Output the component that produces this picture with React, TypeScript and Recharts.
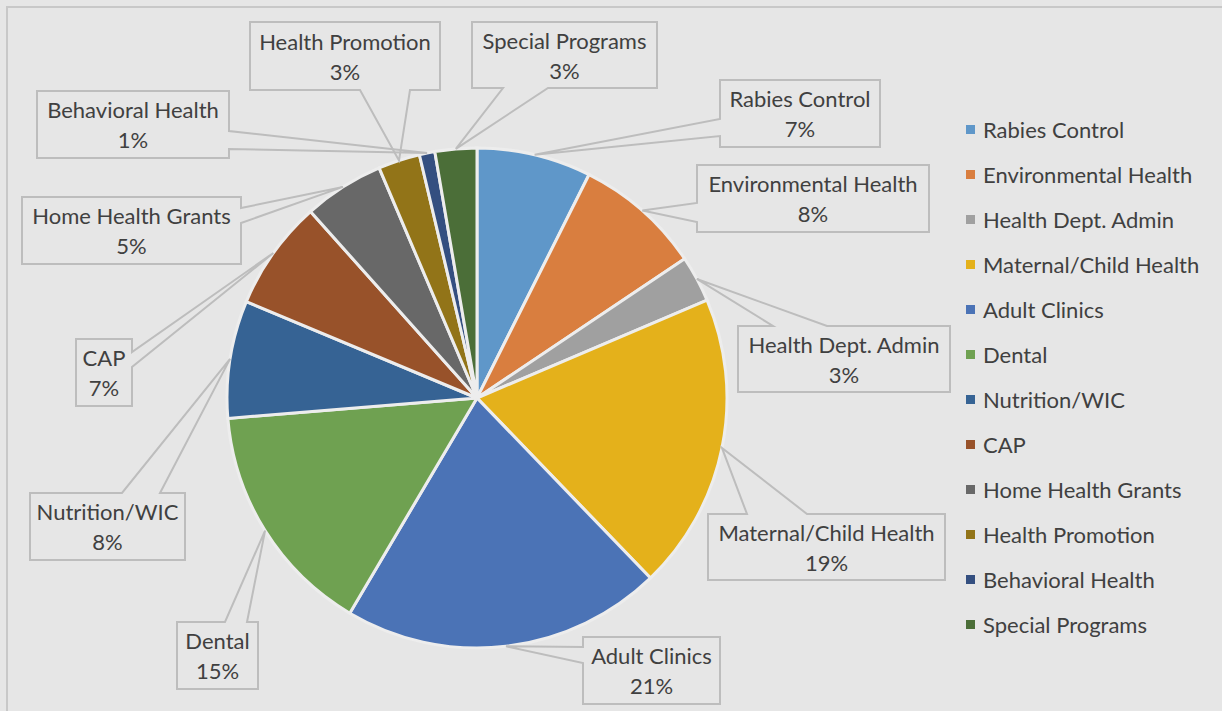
import React from "react";
import { PieChart, Pie, Cell, Legend } from "recharts";

const programs = [
  "Rabies Control",
  "Environmental Health",
  "Health Dept. Admin",
  "Maternal/Child Health",
  "Adult Clinics",
  "Dental",
  "Nutrition/WIC",
  "CAP",
  "Home Health Grants",
  "Health Promotion",
  "Behavioral Health",
  "Special Programs",
];
const shares = [7.4, 8.2, 3.0, 19.2, 20.7, 15.2, 7.6, 7.1, 5.2, 2.7, 1.0, 2.7];
const colors = [
  "#5f97c9",
  "#d97e3f",
  "#a0a0a0",
  "#e4b11b",
  "#4b73b6",
  "#6fa151",
  "#366394",
  "#98522a",
  "#686868",
  "#927418",
  "#344f80",
  "#4b6e38",
];

const rows = programs.map((name, i) => ({ name, value: shares[i] }));

// callout boxes (page pixels), tail base on one side between t0..t1
const callouts = [
  { x: 720, y: 80, w: 160, h: 67, side: "l", t0: 119, t1: 136 },
  { x: 697, y: 165, w: 232, h: 67, side: "l", t0: 203, t1: 222 },
  { x: 738, y: 326, w: 212, h: 66, side: "t", t0: 773, t1: 827 },
  { x: 708, y: 514, w: 237, h: 66, side: "t", t0: 747, t1: 807 },
  { x: 583, y: 637, w: 137, h: 67, side: "l", t0: 647, t1: 663 },
  { x: 177, y: 622, w: 81, h: 67, side: "t", t0: 225, t1: 247 },
  { x: 30, y: 493, w: 155, h: 67, side: "t", t0: 122, t1: 160 },
  { x: 76, y: 339, w: 56, h: 67, side: "r", t0: 352, t1: 367 },
  { x: 22, y: 197, w: 219, h: 67, side: "r", t0: 208, t1: 223 },
  { x: 250, y: 22, w: 190, h: 68, side: "b", t0: 360, t1: 410 },
  { x: 37, y: 91, w: 192, h: 67, side: "r", t0: 131, t1: 149 },
  { x: 472, y: 22, w: 185, h: 66, side: "b", t0: 503, t1: 548 },
];

const BG = "#e6e6e6";
const LINE = "#bdbdbd";
const TEXT = "#404040";
const FONT = "Lato, 'Open Sans', sans-serif";
const RADIAN = Math.PI / 180;

const calloutPath = (c: any, ax: number, ay: number) => {
  const r = c.x + c.w;
  const b = c.y + c.h;
  let d = `M${c.x},${c.y}`;
  if (c.side === "t") d += ` L${c.t0},${c.y} L${ax},${ay} L${c.t1},${c.y}`;
  d += ` L${r},${c.y}`;
  if (c.side === "r") d += ` L${r},${c.t0} L${ax},${ay} L${r},${c.t1}`;
  d += ` L${r},${b}`;
  if (c.side === "b") d += ` L${c.t1},${b} L${ax},${ay} L${c.t0},${b}`;
  d += ` L${c.x},${b}`;
  if (c.side === "l") d += ` L${c.x},${c.t1} L${ax},${ay} L${c.x},${c.t0}`;
  return d + " Z";
};

const renderCallout = (props: any) => {
  const { cx, cy, midAngle, outerRadius, percent, index, name } = props;
  const c = callouts[index];
  const ax = cx + outerRadius * Math.cos(-midAngle * RADIAN);
  const ay = cy + outerRadius * Math.sin(-midAngle * RADIAN);
  const mx = c.x + c.w / 2;
  const my = c.y + c.h / 2;
  return (
    <g key={`callout-${index}`}>
      <path d={calloutPath(c, ax, ay)} fill="none" stroke={LINE} strokeWidth={2} />
      <text x={mx} y={my - 15} textAnchor="middle" dominantBaseline="central" fill={TEXT} fontSize={22} fontFamily={FONT}>
        {name}
      </text>
      <text x={mx} y={my + 15} textAnchor="middle" dominantBaseline="central" fill={TEXT} fontSize={22} fontFamily={FONT}>
        {`${Math.round(percent * 100)}%`}
      </text>
    </g>
  );
};

const renderLegend = () => (
  <div>
    {programs.map((name, i) => (
      <div key={name} style={{ height: 45, display: "flex", alignItems: "center" }}>
        <span style={{ width: 9, height: 9, background: colors[i], marginLeft: 8, marginRight: 8 }} />
        <span style={{ fontSize: 22, color: TEXT, fontFamily: FONT, whiteSpace: "nowrap" }}>{name}</span>
      </div>
    ))}
  </div>
);

const App = () => {
  return (
    <div style={{ position: "absolute", left: 0, top: 0, width: 1222, height: 711, background: BG, overflow: "hidden" }}>
      <div style={{ position: "absolute", left: 6, top: 6, width: 1240, height: 740, border: "2px solid #c8c8c8" }} />
      <div style={{ position: "absolute", left: 0, top: 0 }}>
        <PieChart width={1222} height={711} margin={{ top: 0, right: 0, bottom: 0, left: 0 }}>
          <Pie
            data={rows}
            dataKey="value"
            nameKey="name"
            cx={477}
            cy={398}
            outerRadius={250}
            startAngle={90}
            endAngle={-270}
            stroke="#ededed"
            strokeWidth={3}
            label={renderCallout}
            labelLine={false}
            isAnimationActive={false}
          >
            {rows.map((r, i) => (
              <Cell key={r.name} fill={colors[i]} />
            ))}
          </Pie>
          <Legend
            layout="vertical"
            verticalAlign="top"
            align="right"
            content={renderLegend}
            wrapperStyle={{ left: 958, top: 107, width: 264 }}
          />
        </PieChart>
      </div>
    </div>
  );
};

export default App;
